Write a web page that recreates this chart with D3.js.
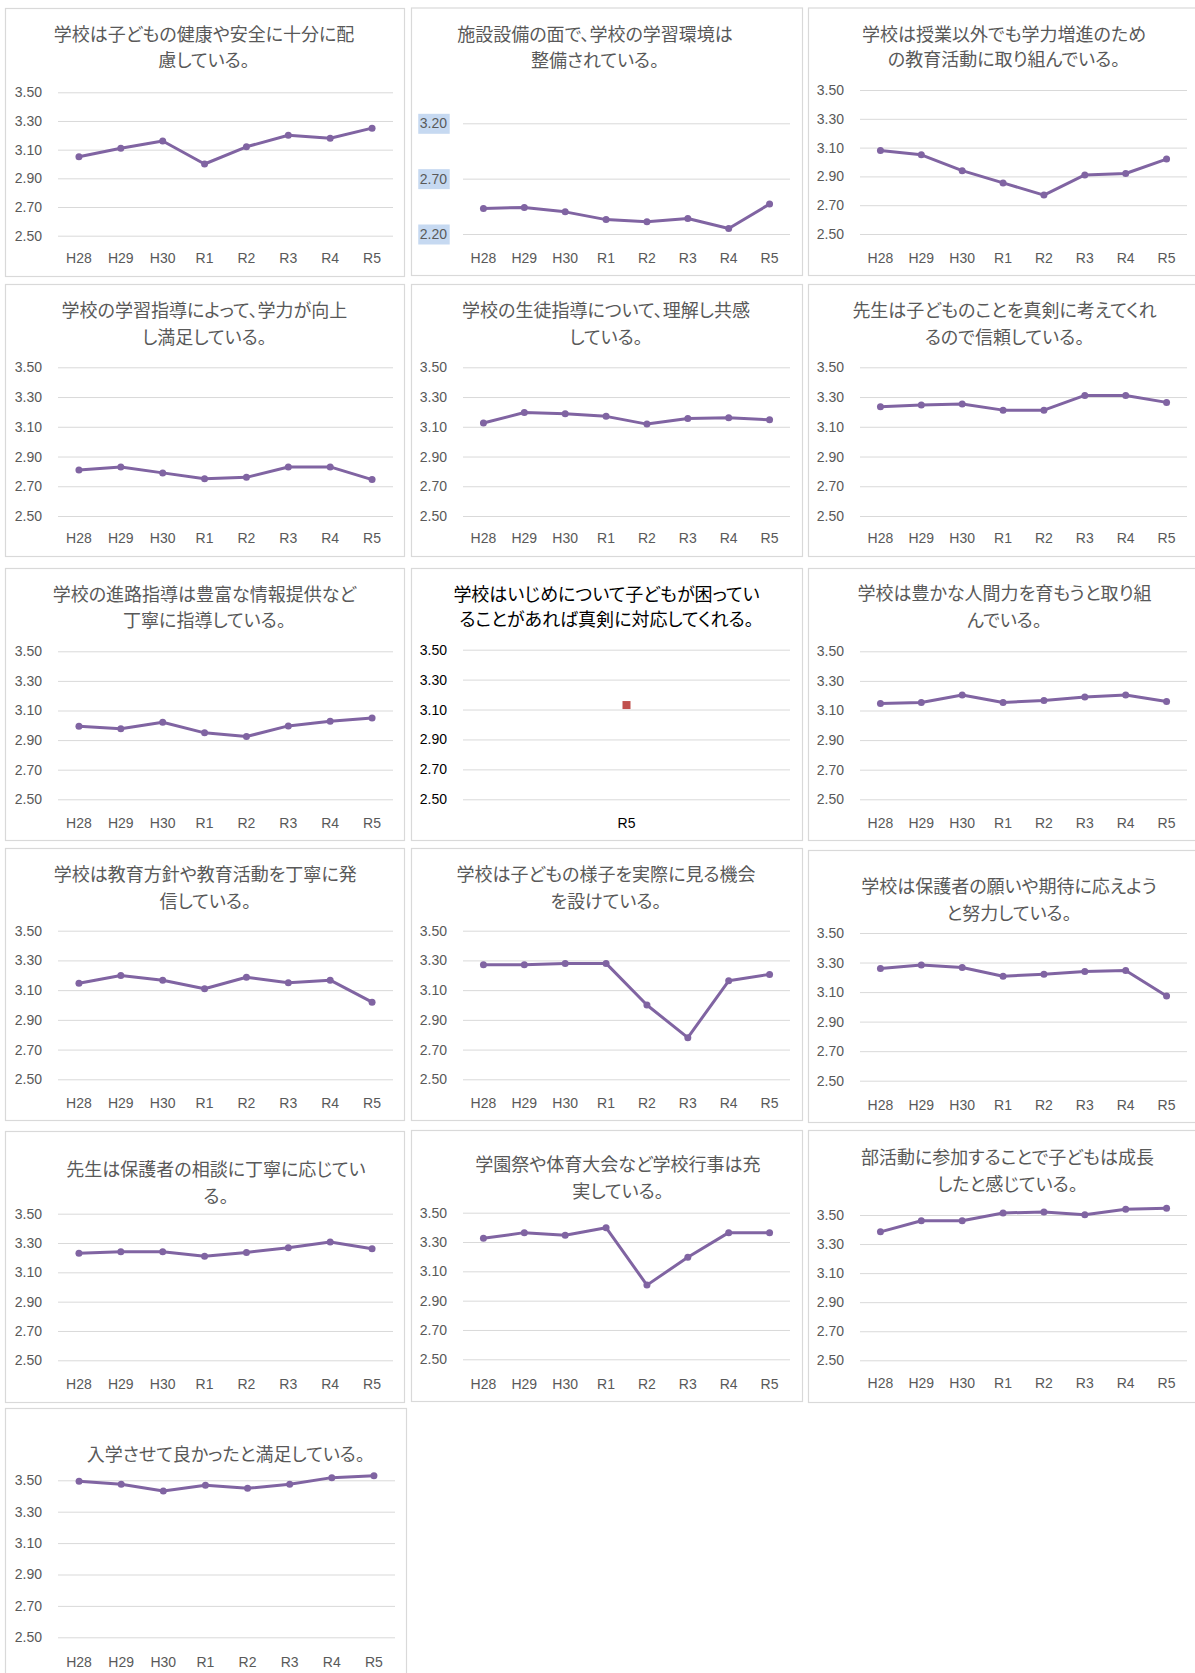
<!DOCTYPE html>
<html>
<head>
<meta charset="utf-8">
<script src="https://cdn.jsdelivr.net/npm/d3@7"></script>
<style>
  html, body { margin: 0; padding: 0; background: #fff; }
  svg { display: block; }
</style>
</head>
<body>
<svg id="chart" width="1195" height="1673"></svg>
<script>
// ---------------- DATA ----------------
const categories = ["H28", "H29", "H30", "R1", "R2", "R3", "R4", "R5"];
const yTickLabels = ["2.50", "2.70", "2.90", "3.10", "3.30", "3.50"];
const yTickLabelsFacility = ["2.20", "2.70", "3.20"];
const bullyingCategories = ["R5"];
const bullyingValues = [3.13];

const titles = [
  ["学校は子どもの健康や安全に十分に配", "慮している。"],
  ["施設設備の面で、学校の学習環境は", "整備されている。"],
  ["学校は授業以外でも学力増進のため", "の教育活動に取り組んでいる。"],
  ["学校の学習指導によって、学力が向上", "し満足している。"],
  ["学校の生徒指導について、理解し共感", "している。"],
  ["先生は子どものことを真剣に考えてくれ", "るので信頼している。"],
  ["学校の進路指導は豊富な情報提供など", "丁寧に指導している。"],
  ["学校はいじめについて子どもが困ってい", "ることがあれば真剣に対応してくれる。"],
  ["学校は豊かな人間力を育もうと取り組", "んでいる。"],
  ["学校は教育方針や教育活動を丁寧に発", "信している。"],
  ["学校は子どもの様子を実際に見る機会", "を設けている。"],
  ["学校は保護者の願いや期待に応えよう", "と努力している。"],
  ["先生は保護者の相談に丁寧に応じてい", "る。"],
  ["学園祭や体育大会など学校行事は充", "実している。"],
  ["部活動に参加することで子どもは成長", "したと感じている。"],
  ["入学させて良かったと満足している。"]
];

const healthSafety   = [3.05, 3.11, 3.16, 3.00, 3.12, 3.20, 3.18, 3.25];
const facilities     = [2.43, 2.44, 2.40, 2.33, 2.31, 2.34, 2.25, 2.47];
const extraStudy     = [3.08, 3.05, 2.94, 2.855, 2.77, 2.91, 2.92, 3.02];
const studyGuidance  = [2.81, 2.83, 2.79, 2.75, 2.76, 2.83, 2.83, 2.745];
const lifeGuidance   = [3.125, 3.196, 3.188, 3.17, 3.118, 3.156, 3.16, 3.147];
const teacherTrust   = [3.235, 3.246, 3.253, 3.212, 3.212, 3.311, 3.311, 3.264];
const careerGuidance = [2.994, 2.976, 3.021, 2.949, 2.924, 2.996, 3.028, 3.05];
const humanity       = [3.147, 3.154, 3.205, 3.154, 3.168, 3.192, 3.205, 3.161];
const information    = [3.147, 3.198, 3.167, 3.109, 3.187, 3.149, 3.167, 3.019];
const observation    = [3.271, 3.271, 3.28, 3.28, 3.00, 2.78, 3.163, 3.206];
const parentWishes   = [3.259, 3.284, 3.266, 3.207, 3.221, 3.239, 3.246, 3.073];
const consultation   = [3.23, 3.241, 3.241, 3.209, 3.236, 3.268, 3.307, 3.261];
const schoolEvents   = [3.325, 3.364, 3.346, 3.398, 3.006, 3.196, 3.364, 3.364];
const clubActivities = [3.384, 3.46, 3.46, 3.514, 3.521, 3.502, 3.54, 3.547];
const satisfaction   = [3.494, 3.475, 3.432, 3.468, 3.449, 3.475, 3.517, 3.529];

// ---------------- LAYOUT ----------------
const cols = [
  { x0: 5,   x1: 404,  gx0: 58,  gx1: 393 },
  { x0: 411, x1: 802,  gx0: 463, gx1: 790 },
  { x0: 808, x1: 1200, gx0: 860, gx1: 1187 }
];
const layout = [
  { c: 0, y0: 8,    y1: 276,  t: [32.5, 59],     top: 92.3,  bot: 235.7,  lab: 258,    tcx: 204 },
  { c: 1, y0: 7.5,  y1: 275,  t: [32.5, 59],     top: 123.3, bot: 234,    lab: 258,    tcx: 595 },
  { c: 2, y0: 7.5,  y1: 275,  t: [32.5, 58],     top: 90,    bot: 234,    lab: 258,    tcx: 1004 },
  { c: 0, y0: 284,  y1: 556,  t: [309.3, 336],   top: 367.3, bot: 516,    lab: 538,    tcx: 204.4 },
  { c: 1, y0: 284,  y1: 556,  t: [309.3, 336],   top: 367.3, bot: 516,    lab: 538,    tcx: 606 },
  { c: 2, y0: 284,  y1: 556,  t: [309.3, 336],   top: 367.3, bot: 516,    lab: 538,    tcx: 1004.5 },
  { c: 0, y0: 568,  y1: 840,  t: [592.7, 619.3], top: 651.3, bot: 799.3,  lab: 822.7,  tcx: 204.4 },
  { c: 1, y0: 568,  y1: 840,  t: [592.7, 618.3], top: 649.7, bot: 799.3,  lab: 822.7,  tcx: 606.5 },
  { c: 2, y0: 568,  y1: 840,  t: [592.3, 619],   top: 651.3, bot: 799.3,  lab: 822.7,  tcx: 1004.5 },
  { c: 0, y0: 848,  y1: 1120, t: [873.3, 900],   top: 930.7, bot: 1079.3, lab: 1103.3, tcx: 205.3 },
  { c: 1, y0: 848,  y1: 1120, t: [873.3, 900],   top: 930.7, bot: 1079.3, lab: 1103.3, tcx: 606 },
  { c: 2, y0: 850,  y1: 1122, t: [885, 911.7],   top: 933,   bot: 1080.7, lab: 1105,   tcx: 1009 },
  { c: 0, y0: 1131, y1: 1402, t: [1168.3, 1195], top: 1213.7,bot: 1360.3, lab: 1384.3, tcx: 216 },
  { c: 1, y0: 1130, y1: 1401, t: [1163.3, 1190], top: 1212.7,bot: 1359.3, lab: 1383.7, tcx: 618 },
  { c: 2, y0: 1130, y1: 1402, t: [1156, 1182.7], top: 1215,  bot: 1360.3, lab: 1383.3, tcx: 1007.4 },
  { c: 0, y0: 1408, y1: 1700, t: [1453.3],       top: 1480.3,bot: 1637.3, lab: 1661.7, tcx: 225.8, gx1: 395, x1: 406 }
];

const panelSeries = [healthSafety, facilities, extraStudy, studyGuidance, lifeGuidance,
  teacherTrust, careerGuidance, null, humanity, information, observation, parentWishes,
  consultation, schoolEvents, clubActivities, satisfaction];

// ---------------- STYLE ----------------
const LINE = "#8064A2";
const GRID = "#D9D9D9";
const TEXT = "#595959";
const BORDER = "#D9D9D9";
const LATIN = "'Liberation Sans', Arial, sans-serif";
const CJK = "'Noto Sans CJK JP', 'Noto Sans', sans-serif";

const svg = d3.select("#chart");

function drawPanel(i) {
  const L = layout[i];
  const col = cols[L.c];
  const x0 = col.x0, x1 = L.x1 || col.x1;
  const gx0 = col.gx0, gx1 = L.gx1 || col.gx1;
  const isBully = (i === 7);
  const isFacility = (i === 1);
  const txtColor = isBully ? "#000" : TEXT;

  const g = svg.append("g");

  g.append("rect")
    .attr("x", x0 + 0.5).attr("y", L.y0 + 0.5)
    .attr("width", x1 - x0).attr("height", L.y1 - L.y0)
    .attr("fill", "#fff").attr("stroke", BORDER).attr("stroke-width", 1.2);

  // title
  const tt = g.append("g");
  titles[i].forEach((line, k) => {
    tt.append("text")
      .attr("x", L.tcx).attr("y", L.t[k])
      .attr("text-anchor", "middle")
      .attr("dominant-baseline", "central")
      .style("font-family", CJK)
      .style("font-size", "18px")
      .style("font-weight", 400)
      .style("font-feature-settings", "'palt'")
      .attr("fill", txtColor)
      .text(line);
  });

  const tickLabels = isFacility ? yTickLabelsFacility : yTickLabels;
  const tickVals = tickLabels.map(Number);
  const cats = isBully ? bullyingCategories : categories;
  const vals = isBully ? bullyingValues : panelSeries[i];

  const x = d3.scaleBand().domain(cats).range([gx0, gx1]);
  const y = d3.scaleLinear().domain([d3.min(tickVals), d3.max(tickVals)]).range([L.bot, L.top]);

  // y axis with gridlines
  const ya = g.append("g").attr("transform", `translate(${gx0},0)`)
    .call(d3.axisLeft(y).tickValues(tickVals)
      .tickFormat((d, j) => tickLabels[j])
      .tickSize(-(gx1 - gx0)).tickPadding(16));
  ya.select(".domain").remove();
  ya.selectAll(".tick line").attr("stroke", GRID).attr("stroke-width", 1);
  ya.selectAll(".tick text")
    .style("font-family", LATIN).style("font-size", "14px")
    .attr("fill", txtColor);

  if (isFacility) {
    ya.selectAll(".tick").each(function () {
      const t = d3.select(this).select("text");
      const bb = t.node().getBBox();
      d3.select(this).insert("rect", "text")
        .attr("x", bb.x - 1.5).attr("y", -10)
        .attr("width", bb.width + 4).attr("height", 20)
        .attr("fill", "#C6D9F1");
    });
  }

  // x axis labels
  const xa = g.append("g").attr("transform", `translate(0,${L.bot})`)
    .call(d3.axisBottom(x).tickSize(0));
  xa.select(".domain").remove();
  xa.selectAll(".tick text")
    .attr("y", L.lab - L.bot).attr("dy", "0.35em")
    .style("font-family", LATIN).style("font-size", "14px")
    .attr("fill", txtColor);

  const pts = cats.map((c, j) => ({ c, v: vals[j] }));
  const cx = d => x(d.c) + x.bandwidth() / 2;

  if (isBully) {
    g.selectAll("rect.mk").data(pts).join("rect").attr("class", "mk")
      .attr("x", d => cx(d) - 4).attr("y", d => y(d.v) - 4)
      .attr("width", 8).attr("height", 8)
      .attr("fill", "#C0504D");
  } else {
    const line = d3.line().x(cx).y(d => y(d.v));
    g.append("path").datum(pts)
      .attr("d", line).attr("fill", "none")
      .attr("stroke", LINE).attr("stroke-width", 3)
      .attr("stroke-linejoin", "round");
    g.selectAll("circle.mk").data(pts).join("circle").attr("class", "mk")
      .attr("cx", cx).attr("cy", d => y(d.v)).attr("r", 3.5)
      .attr("fill", LINE);
  }
}

for (let i = 0; i < layout.length; i++) drawPanel(i);
</script>
</body>
</html>
